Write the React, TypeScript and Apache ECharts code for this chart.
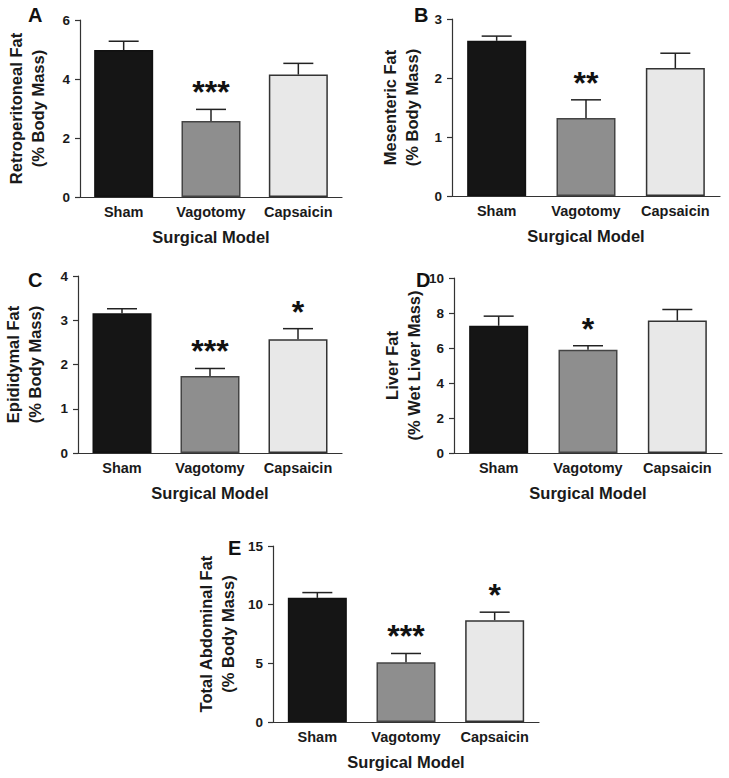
import React, { useEffect, useRef } from "react";
import * as echarts from "echarts";

const categories = ["Sham", "Vagotomy", "Capsaicin"];

const retroMean = [4.98, 2.58, 4.15];
const retroSem = [0.3, 0.39, 0.38];
const retroSig = ["", "***", ""];

const mesMean = [2.63, 1.32, 2.17];
const mesSem = [0.08, 0.31, 0.25];
const mesSig = ["", "**", ""];

const epiMean = [3.16, 1.74, 2.57];
const epiSem = [0.1, 0.17, 0.24];
const epiSig = ["", "***", "*"];

const liverMean = [7.27, 5.9, 7.57];
const liverSem = [0.55, 0.23, 0.63];
const liverSig = ["", "*", ""];

const totalMean = [10.58, 5.1, 8.68];
const totalSem = [0.45, 0.74, 0.68];
const totalSig = ["", "***", "*"];

const FONT = "'Liberation Sans', Arial, Helvetica, sans-serif";
const fills = ["#151515", "#8e8e8e", "#e8e8e8"];
const borders = ["#111111", "#444444", "#333333"];

const panels = [
  { letter: "A", yName: "Retroperitoneal Fat\n(% Body Mass)", mean: retroMean, sem: retroSem, sig: retroSig, max: 6, interval: 2,
    grid: { left: 80, top: 20, width: 262, height: 177 }, lp: [28, 5], nameGap: 31 },
  { letter: "B", yName: "Mesenteric Fat\n(% Body Mass)", mean: mesMean, sem: mesSem, sig: mesSig, max: 3, interval: 1,
    grid: { left: 452, top: 19, width: 268, height: 177 }, lp: [414, 5], nameGap: 29 },
  { letter: "C", yName: "Epididymal Fat\n(% Body Mass)", mean: epiMean, sem: epiSem, sig: epiSig, max: 4, interval: 1,
    grid: { left: 78, top: 276, width: 264, height: 177 }, lp: [28, 270], nameGap: 32 },
  { letter: "D", yName: "Liver Fat\n(% Wet Liver Mass)", mean: liverMean, sem: liverSem, sig: liverSig, max: 10, interval: 2,
    grid: { left: 454, top: 278, width: 268, height: 175 }, lp: [416, 270], nameGap: 26 },
  { letter: "E", yName: "Total Abdominal Fat\n(% Body Mass)", mean: totalMean, sem: totalSem, sig: totalSig, max: 15, interval: 5,
    grid: { left: 273, top: 546, width: 266, height: 176 }, lp: [228, 538], nameGap: 34 },
];

export default function App() {
  const ref = useRef<HTMLDivElement>(null);
  useEffect(() => {
    if (!ref.current) return;
    const chart = echarts.init(ref.current, null, { renderer: "svg" });
    const grids: any[] = [];
    const xAxes: any[] = [];
    const yAxes: any[] = [];
    const series: any[] = [];
    const graphics: any[] = [];
    panels.forEach((p, i) => {
      grids.push({ ...p.grid, containLabel: false });
      xAxes.push({
        type: "category",
        gridIndex: i,
        data: categories,
        boundaryGap: true,
        axisLine: { lineStyle: { color: "#333", width: 1.2 } },
        axisTick: { alignWithLabel: true, interval: 0, length: 5, lineStyle: { color: "#333", width: 1.2 } },
        axisLabel: { interval: 0, hideOverlap: false, color: "#1a1a1a", fontSize: 14.5, fontWeight: "bold", fontFamily: FONT, margin: 7 },
        name: "Surgical Model",
        nameLocation: "middle",
        nameGap: 31,
        nameTextStyle: { color: "#1a1a1a", fontSize: 16.5, fontWeight: "bold", fontFamily: FONT },
      });
      yAxes.push({
        type: "value",
        gridIndex: i,
        min: 0,
        max: p.max,
        interval: p.interval,
        splitLine: { show: false },
        axisLine: { show: true, lineStyle: { color: "#333", width: 1.2 } },
        axisTick: { show: true, length: 5, lineStyle: { color: "#333", width: 1.2 } },
        axisLabel: { color: "#1a1a1a", fontSize: 13.5, fontWeight: "bold", fontFamily: FONT, margin: 10 },
        name: p.yName,
        nameLocation: "middle",
        nameRotate: 90,
        nameGap: p.nameGap,
        nameTextStyle: { color: "#1a1a1a", fontSize: 16.5, fontWeight: "bold", fontFamily: FONT, lineHeight: 22 },
      });
      series.push({
        type: "bar",
        xAxisIndex: i,
        yAxisIndex: i,
        barWidth: 59,
        data: p.mean.map((v, j) => ({
          value: v,
          itemStyle: { color: fills[j], borderColor: borders[j], borderWidth: 1.5 },
        })),
      });
      const sig = p.sig;
      series.push({
        type: "custom",
        xAxisIndex: i,
        yAxisIndex: i,
        clip: false,
        z: 5,
        data: p.mean.map((v, j) => [j, v, v + p.sem[j]]),
        encode: { x: 0, y: 2 },
        renderItem: (params: any, api: any) => {
          const x = api.value(0);
          const m = api.value(1);
          const t = api.value(2);
          const p0 = api.coord([x, m]);
          const p1 = api.coord([x, t]);
          const st = { stroke: "#222", lineWidth: 1.5 };
          const children: any[] = [
            { type: "line", shape: { x1: p0[0], y1: p0[1], x2: p1[0], y2: p1[1] }, style: st },
            { type: "line", shape: { x1: p1[0] - 15, y1: p1[1], x2: p1[0] + 15, y2: p1[1] }, style: st },
          ];
          const s = sig[params.dataIndex];
          if (s) {
            children.push({
              type: "text",
              x: p1[0],
              y: p1[1] - 1,
              style: {
                text: s,
                fill: "#111",
                font: `bold 32px ${FONT}`,
                align: "center",
                verticalAlign: "bottom",
              },
            });
          }
          return { type: "group", children };
        },
      });
      graphics.push({
        type: "text",
        left: p.lp[0],
        top: p.lp[1],
        style: { text: p.letter, fill: "#111", font: `bold 20px ${FONT}` },
      });
    });
    chart.setOption({
      animation: false,
      backgroundColor: "#ffffff",
      grid: grids,
      xAxis: xAxes,
      yAxis: yAxes,
      series,
      graphic: graphics,
    });
    return () => chart.dispose();
  }, []);
  return <div ref={ref} style={{ position: "absolute", left: 0, top: 0, width: 729, height: 778 }} />;
}
